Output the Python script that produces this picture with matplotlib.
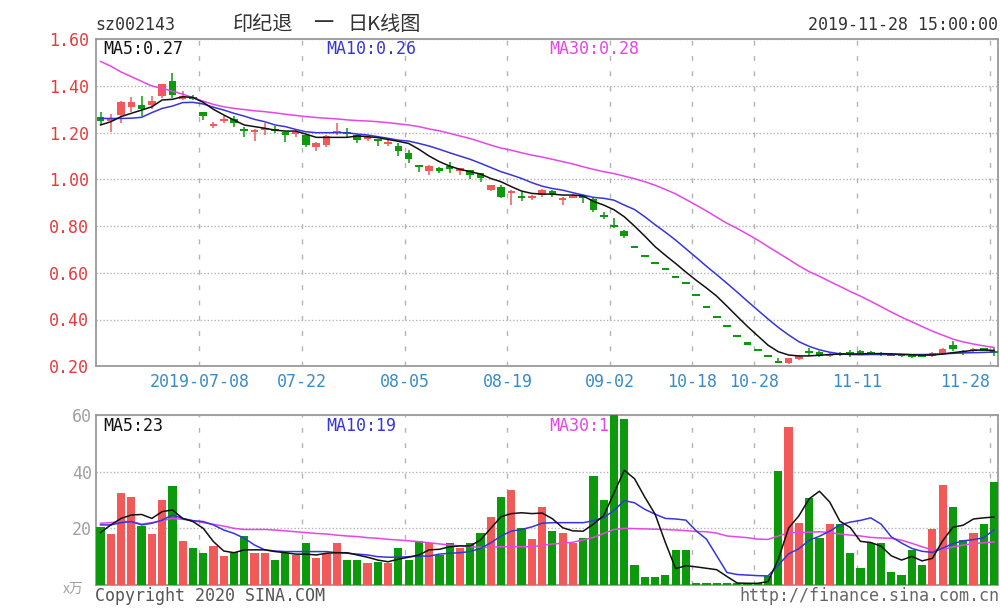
import matplotlib
matplotlib.use("Agg")
import matplotlib.pyplot as plt
import numpy as np

# ---------------- data ----------------
opens = [1.268, 1.250, 1.275, 1.310, 1.320, 1.320, 1.357, 1.420, 1.343, 1.352,
         1.290, 1.230, 1.250, 1.257, 1.214, 1.204, 1.215, 1.215, 1.204, 1.193,
         1.190, 1.137, 1.147, 1.200, 1.205, 1.190, 1.175, 1.172, 1.155, 1.145,
         1.111, 1.061, 1.037, 1.047, 1.057, 1.037, 1.040, 1.026, 0.954, 0.966,
         0.943, 0.929, 0.919, 0.933, 0.951, 0.911, 0.923, 0.929, 0.918, 0.847,
         0.804, 0.779, 0.711, 0.673, 0.643, 0.615, 0.583, 0.558, 0.505, 0.452,
         0.409, 0.372, 0.329, 0.297, 0.269, 0.243, 0.219, 0.212, 0.232, 0.262,
         0.261, 0.243, 0.255, 0.258, 0.262, 0.260, 0.255, 0.250, 0.248, 0.245,
         0.248, 0.245, 0.258, 0.292, 0.265, 0.265, 0.275, 0.264]
highs = [1.290, 1.280, 1.335, 1.355, 1.357, 1.357, 1.410, 1.457, 1.380, 1.360,
         1.290, 1.247, 1.270, 1.270, 1.226, 1.214, 1.243, 1.230, 1.205, 1.210,
         1.190, 1.160, 1.190, 1.240, 1.220, 1.190, 1.185, 1.175, 1.170, 1.155,
         1.126, 1.061, 1.061, 1.054, 1.076, 1.047, 1.040, 1.026, 0.976, 0.976,
         0.954, 0.947, 0.933, 0.961, 0.954, 0.923, 0.937, 0.933, 0.923, 0.861,
         0.833, 0.783, 0.711, 0.673, 0.643, 0.615, 0.583, 0.558, 0.505, 0.452,
         0.409, 0.372, 0.329, 0.297, 0.269, 0.243, 0.234, 0.236, 0.250, 0.276,
         0.265, 0.258, 0.262, 0.270, 0.268, 0.265, 0.260, 0.254, 0.250, 0.248,
         0.250, 0.260, 0.280, 0.310, 0.270, 0.280, 0.280, 0.278]
lows = [1.235, 1.205, 1.240, 1.290, 1.270, 1.300, 1.350, 1.350, 1.340, 1.340,
        1.255, 1.218, 1.240, 1.226, 1.183, 1.165, 1.190, 1.200, 1.160, 1.180,
        1.140, 1.123, 1.137, 1.190, 1.176, 1.155, 1.166, 1.145, 1.143, 1.100,
        1.069, 1.033, 1.019, 1.026, 1.026, 1.019, 1.000, 0.990, 0.951, 0.919,
        0.890, 0.909, 0.911, 0.923, 0.923, 0.890, 0.919, 0.897, 0.861, 0.829,
        0.790, 0.751, 0.711, 0.673, 0.643, 0.615, 0.583, 0.558, 0.505, 0.452,
        0.409, 0.372, 0.329, 0.297, 0.269, 0.243, 0.219, 0.208, 0.225, 0.243,
        0.240, 0.240, 0.245, 0.240, 0.250, 0.250, 0.245, 0.242, 0.240, 0.235,
        0.238, 0.240, 0.255, 0.265, 0.250, 0.260, 0.265, 0.245]
closes = [1.252, 1.262, 1.330, 1.330, 1.300, 1.337, 1.408, 1.360, 1.357, 1.345,
          1.271, 1.236, 1.256, 1.240, 1.210, 1.213, 1.220, 1.210, 1.190, 1.203,
          1.147, 1.154, 1.186, 1.207, 1.195, 1.169, 1.180, 1.166, 1.160, 1.120,
          1.086, 1.051, 1.057, 1.036, 1.043, 1.047, 1.019, 1.004, 0.976, 0.923,
          0.951, 0.923, 0.929, 0.954, 0.937, 0.919, 0.930, 0.919, 0.869, 0.840,
          0.797, 0.757, 0.711, 0.673, 0.643, 0.615, 0.583, 0.558, 0.505, 0.452,
          0.409, 0.372, 0.329, 0.297, 0.269, 0.243, 0.219, 0.233, 0.245, 0.258,
          0.243, 0.254, 0.250, 0.253, 0.258, 0.256, 0.250, 0.247, 0.245, 0.243,
          0.240, 0.257, 0.275, 0.272, 0.258, 0.275, 0.268, 0.260]
volumes = [20.6, 17.9, 32.4, 31.2, 20.8, 17.9, 30.0, 34.9, 15.5, 13.2,
           11.2, 13.8, 10.2, 11.5, 17.3, 11.2, 11.2, 8.8, 11.2, 10.6,
           15.0, 9.6, 10.9, 15.0, 8.8, 8.8, 7.6, 8.2, 7.9, 13.2,
           9.0, 15.6, 15.0, 10.6, 15.0, 13.2, 15.0, 18.5, 23.9, 31.2,
           33.6, 20.1, 16.1, 27.6, 19.2, 18.5, 14.7, 16.7, 38.5, 30.0,
           61.0, 58.5, 7.1, 2.9, 2.9, 3.5, 12.4, 12.4, 0.6, 0.6,
           0.6, 0.6, 0.6, 0.6, 0.6, 3.2, 40.2, 55.9, 22.0, 30.6,
           16.7, 21.5, 21.5, 11.2, 5.9, 15.0, 15.0, 4.5, 3.5, 12.4,
           7.1, 19.6, 35.3, 27.4, 15.9, 18.5, 21.5, 36.5]

price_ma5 = [1.233, 1.247, 1.269, 1.283, 1.297, 1.311, 1.340, 1.343, 1.354, 1.351,
             1.330, 1.300, 1.276, 1.254, 1.233, 1.226, 1.219, 1.211, 1.207, 1.207,
             1.194, 1.180, 1.180, 1.180, 1.180, 1.186, 1.183, 1.179, 1.171, 1.163,
             1.154, 1.129, 1.100, 1.076, 1.057, 1.043, 1.033, 1.023, 1.004, 0.990,
             0.969, 0.950, 0.940, 0.937, 0.937, 0.933, 0.933, 0.929, 0.906, 0.890,
             0.870, 0.840, 0.800, 0.757, 0.712, 0.675, 0.640, 0.603, 0.568, 0.535,
             0.500, 0.457, 0.413, 0.370, 0.330, 0.290, 0.262, 0.248, 0.244, 0.244,
             0.247, 0.250, 0.252, 0.252, 0.253, 0.254, 0.254, 0.253, 0.251, 0.249,
             0.247, 0.248, 0.252, 0.258, 0.263, 0.268, 0.270, 0.267]
price_ma10 = [1.261, 1.261, 1.261, 1.262, 1.266, 1.286, 1.304, 1.314, 1.329, 1.330,
              1.323, 1.309, 1.297, 1.283, 1.271, 1.257, 1.247, 1.233, 1.226, 1.214,
              1.204, 1.200, 1.200, 1.200, 1.200, 1.194, 1.190, 1.183, 1.176, 1.168,
              1.164, 1.154, 1.143, 1.129, 1.114, 1.100, 1.086, 1.069, 1.051, 1.033,
              1.019, 1.004, 0.986, 0.971, 0.961, 0.954, 0.943, 0.933, 0.923, 0.919,
              0.911, 0.890, 0.871, 0.840, 0.806, 0.774, 0.740, 0.703, 0.666, 0.628,
              0.592, 0.555, 0.517, 0.478, 0.440, 0.402, 0.366, 0.334, 0.305, 0.285,
              0.270, 0.260, 0.253, 0.250, 0.249, 0.250, 0.250, 0.250, 0.250, 0.250,
              0.250, 0.251, 0.253, 0.255, 0.257, 0.258, 0.259, 0.261]
price_ma30 = [1.505, 1.485, 1.460, 1.440, 1.420, 1.400, 1.390, 1.378, 1.365, 1.350,
              1.335, 1.321, 1.311, 1.304, 1.299, 1.294, 1.290, 1.285, 1.279, 1.274,
              1.269, 1.265, 1.262, 1.259, 1.255, 1.252, 1.250, 1.247, 1.243, 1.238,
              1.233, 1.226, 1.216, 1.208, 1.197, 1.186, 1.175, 1.161, 1.147, 1.134,
              1.125, 1.114, 1.104, 1.096, 1.086, 1.076, 1.066, 1.054, 1.043, 1.033,
              1.025, 1.014, 1.003, 0.990, 0.975, 0.957, 0.938, 0.914, 0.890, 0.865,
              0.838, 0.812, 0.790, 0.765, 0.740, 0.712, 0.685, 0.658, 0.630, 0.605,
              0.585, 0.563, 0.542, 0.520, 0.500, 0.478, 0.455, 0.432, 0.410, 0.390,
              0.370, 0.350, 0.333, 0.316, 0.304, 0.295, 0.287, 0.280]

vol_ma5 = [18.5, 21.2, 23.5, 24.7, 24.9, 23.5, 25.9, 26.5, 23.5, 22.4,
           20.0, 15.3, 12.0, 11.4, 12.4, 12.4, 12.4, 11.8, 11.4, 10.9,
           10.9, 10.6, 11.2, 11.4, 11.4, 10.6, 9.8, 8.8, 8.2, 9.1,
           9.8, 10.6, 12.4, 12.6, 13.5, 13.8, 13.8, 15.9, 20.0, 24.1,
           25.2, 25.5, 25.2, 25.4, 23.4, 20.2, 19.1, 19.0, 21.5, 24.5,
           32.5, 40.5, 37.5, 31.0, 25.0, 15.0, 5.8, 6.8, 6.4, 5.9,
           5.4, 3.0, 0.7, 0.6, 0.6, 1.2, 9.1, 20.1, 24.4, 30.4,
           33.1, 29.3, 22.5, 20.3, 15.4, 15.0, 13.7, 10.3, 8.8, 10.1,
           8.5, 9.4, 15.6, 20.4, 21.1, 23.3, 23.7, 24.0]
vol_ma10 = [21.2, 21.2, 22.0, 22.4, 21.2, 21.8, 22.9, 24.7, 23.5, 22.7,
            22.4, 21.2, 19.4, 18.2, 16.5, 14.1, 12.4, 12.0, 11.8, 11.8,
            11.8, 11.8, 11.8, 11.4, 11.2, 10.9, 10.6, 10.0, 9.8, 9.8,
            10.0, 10.2, 10.2, 10.9, 11.2, 11.4, 11.8, 12.9, 14.9, 17.3,
            19.0, 19.6, 20.5, 21.8, 22.0, 22.0, 22.0, 22.0, 22.7, 23.8,
            26.3, 29.8, 29.0, 26.7, 25.0, 23.5, 23.3, 22.9, 19.1, 16.2,
            10.3, 4.4, 3.7, 3.5, 3.3, 3.2, 7.0, 11.0, 12.8, 15.8,
            17.2, 19.0, 21.2, 22.2, 22.8, 23.7, 21.5, 17.0, 14.8, 12.9,
            11.9, 11.5, 13.0, 14.6, 15.6, 16.0, 16.7, 19.5]
vol_ma30 = [21.8, 22.0, 22.4, 22.4, 21.5, 22.0, 22.7, 23.5, 23.2, 22.7,
            22.0, 21.4, 20.8, 20.0, 19.6, 19.6, 19.6, 19.4, 19.1, 18.8,
            18.5, 18.2, 18.0, 17.6, 17.3, 17.1, 16.7, 16.5, 16.1, 15.9,
            15.6, 15.3, 14.9, 14.5, 14.1, 13.8, 13.5, 13.3, 13.3, 13.5,
            13.5, 13.5, 13.5, 14.0, 14.5, 14.7, 15.1, 15.9, 16.8, 18.2,
            19.6, 20.0, 19.9, 19.8, 19.7, 19.6, 19.4, 19.2, 18.9, 18.8,
            18.3, 17.3, 17.0, 16.7, 16.2, 16.1, 17.3, 18.5, 18.5, 18.6,
            18.8, 18.5, 18.0, 17.6, 17.3, 16.8, 16.6, 16.5, 15.8, 14.7,
            13.5, 12.4, 12.6, 13.4, 14.1, 14.6, 14.9, 15.2]

tick_idx = [10, 20, 30, 40, 50, 58, 64, 74, 87]
tick_labels = ["2019-07-08", "07-22", "08-05", "08-19", "09-02",
               "10-18", "10-28", "11-11", "11-28"]
price_ticks = [0.20, 0.40, 0.60, 0.80, 1.00, 1.20, 1.40, 1.60]
vol_ticks = [20, 40, 60]

# ---------------- style ----------------
RED = "#f25a5a"
GREEN = "#0c9a0c"
C_MA5 = "#111111"
C_MA10 = "#3535dd"
C_MA30 = "#e646e6"
GRID = "#b4b4b4"
SPINE = "#9a9a9a"
MONO = "DejaVu Sans Mono"
CJK = ["Noto Sans CJK SC", "DejaVu Sans"]

plt.rcParams['font.family'] = [MONO, "Noto Sans CJK SC"]

W, H = 1000, 613
fig = plt.figure(figsize=(W / 100, H / 100), dpi=100)
fig.patch.set_facecolor("white")


def fx(px):
    return px / W


def fy(py):
    return 1 - py / H


x0, x1 = 96, 998
ax = fig.add_axes([fx(x0), fy(366.2), (x1 - x0) / W, (366.2 - 39.3) / H])
axv = fig.add_axes([fx(x0), fy(585.0), (x1 - x0) / W, (585.0 - 415.0) / H])

o = np.array(opens)
h = np.array(highs)
l = np.array(lows)
c = np.array(closes)
x = np.arange(len(c))
prev = np.concatenate([[c[0]], c[:-1]])
is_up = np.where(c > o, True, np.where(c < o, False, c >= prev))
colors = [RED if u else GREEN for u in is_up]

# candles
min_body = 0.009
body_h = np.maximum(np.abs(c - o), min_body)
body_b = np.where(np.abs(c - o) < min_body, (o + c) / 2 - min_body / 2, np.minimum(o, c))
ax.vlines(x, l, h, colors=colors, linewidth=1.1, zorder=2)
ax.bar(x, body_h, width=0.74, bottom=body_b, color=colors, linewidth=0, zorder=3)

ax.plot(x, price_ma30, color=C_MA30, linewidth=1.1, zorder=4)
ax.plot(x, price_ma10, color=C_MA10, linewidth=1.1, zorder=5)
ax.plot(x, price_ma5, color=C_MA5, linewidth=1.1, zorder=6)

# volume
axv.bar(x, volumes, width=0.8, color=colors, linewidth=0, zorder=3)
axv.plot(x, vol_ma30, color=C_MA30, linewidth=1.1, zorder=4)
axv.plot(x, vol_ma10, color=C_MA10, linewidth=1.1, zorder=5)
axv.plot(x, vol_ma5, color=C_MA5, linewidth=1.1, zorder=6)

grid_pos = [t - 0.38 for t in tick_idx]
xl = (-0.44, 87.39)
for a in (ax, axv):
    a.set_xlim(*xl)
    a.set_xticks(grid_pos)
    a.xaxis.grid(True, linestyle=(0, (3.5, 7.5)), color=GRID, linewidth=1.0, zorder=0)
    a.yaxis.grid(True, linestyle=(0, (1, 1.5)), color=GRID, linewidth=1.0, zorder=0)
    a.set_axisbelow(True)
    for s in a.spines.values():
        s.set_color(SPINE)
        s.set_linewidth(1.3)
    a.tick_params(axis='both', length=0)

ax.set_ylim(0.2, 1.6)
ax.set_yticks(price_ticks)
ax.set_yticklabels(["%.2f" % v for v in price_ticks])
ax.tick_params(axis='y', labelcolor="#e63c3c", labelsize=12, pad=5)
ax.set_xticklabels(tick_labels)
ax.tick_params(axis='x', labelcolor="#3a8cc8", labelsize=12, pad=5)
lbls = ax.get_xticklabels()
lbls[-1].set_horizontalalignment('right')

axv.set_ylim(0, 60)
axv.set_yticks(vol_ticks)
axv.set_yticklabels([str(v) for v in vol_ticks])
axv.tick_params(axis='y', labelcolor="#a0a0a0", labelsize=12, pad=3)
axv.set_xticklabels([])

# ---------------- texts ----------------
fig.text(fx(95), fy(25), "sz002143", fontsize=12, color="#333333", va='center', ha='left', family=MONO)
fig.text(fx(233), fy(24), "印纪退", fontsize=14.5, color="#333333", va='center', ha='left', family=CJK)
fig.text(fx(323), fy(24), "一", fontsize=14.5, color="#333333", va='center', ha='center', family=CJK)
fig.text(fx(347), fy(24), "日K线图", fontsize=14.5, color="#333333", va='center', ha='left', family=CJK)
fig.text(fx(998), fy(25), "2019-11-28 15:00:00", fontsize=12, color="#333333", va='center', ha='right', family=MONO)

fig.text(fx(103), fy(49), "MA5:0.27", fontsize=12, color=C_MA5, va='center', ha='left', family=MONO)
fig.text(fx(326), fy(49), "MA10:0.26", fontsize=12, color=C_MA10, va='center', ha='left', family=MONO)
fig.text(fx(549), fy(49), "MA30:0.28", fontsize=12, color=C_MA30, va='center', ha='left', family=MONO)

axv.text(0.008, 0.935, "MA5:23", transform=axv.transAxes, fontsize=12, color=C_MA5,
         va='center', ha='left', family=MONO, zorder=1)
axv.text((326 - x0) / (x1 - x0), 0.935, "MA10:19", transform=axv.transAxes, fontsize=12,
         color=C_MA10, va='center', ha='left', family=MONO, zorder=1)
axv.text((549 - x0) / (x1 - x0), 0.935, "MA30:14", transform=axv.transAxes, fontsize=12,
         color=C_MA30, va='center', ha='left', family=MONO, zorder=1)

fig.text(fx(73), fy(589), "x万", fontsize=10, color="#a0a0a0", va='center', ha='center', family=CJK)
fig.text(fx(95), fy(596), "Copyright 2020 SINA.COM", fontsize=12, color="#555555",
         va='center', ha='left', family=MONO)
fig.text(fx(999), fy(596), "http://finance.sina.com.cn", fontsize=12, color="#666666",
         va='center', ha='right', family=MONO)

fig.savefig("out.png", dpi=100, facecolor="white")
